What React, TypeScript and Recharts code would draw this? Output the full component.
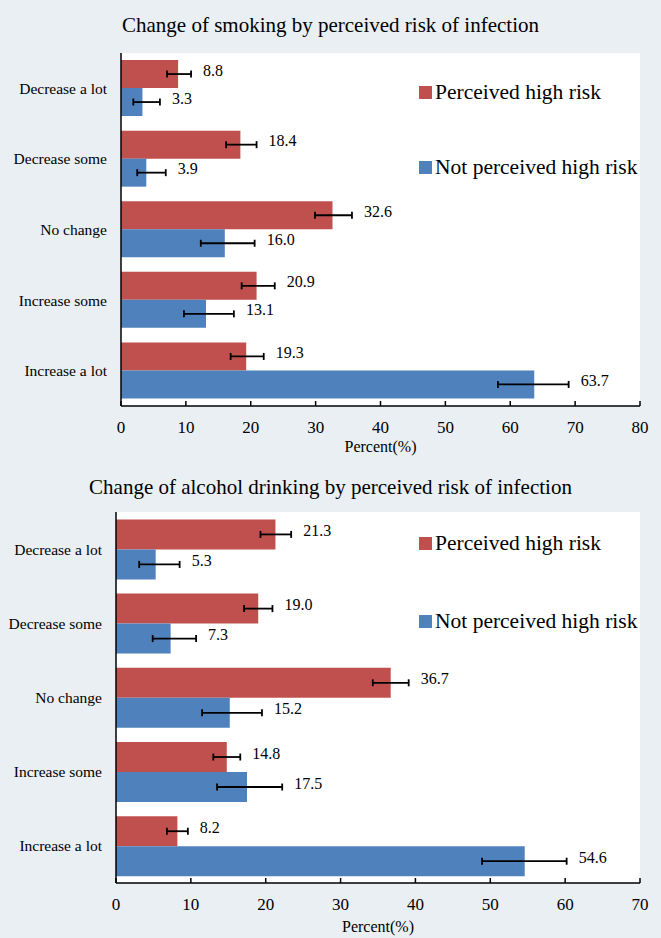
import { BarChart, Bar, XAxis, YAxis, CartesianGrid, ErrorBar, LabelList, Legend, Customized } from 'recharts';

const FONT = "'Liberation Serif', 'Times New Roman', Times, serif";
const RED = '#c0504d';
const BLUE = '#4f81bd';

const categories = ['Decrease a lot', 'Decrease some', 'No change', 'Increase some', 'Increase a lot'];
const seriesKeys = ['high', 'notHigh'];

// smoking
const smokingHigh = [8.8, 18.4, 32.6, 20.9, 19.3];
const smokingNotHigh = [3.3, 3.9, 16.0, 13.1, 63.7];
const smokingHighErr = [[1.7, 2.0], [2.2, 2.5], [2.7, 3.0], [2.3, 2.8], [2.4, 2.7]];
const smokingNotHighErr = [[1.4, 2.7], [1.4, 3.0], [3.7, 4.6], [3.4, 4.3], [5.6, 5.3]];
const smokingTicks = [0, 10, 20, 30, 40, 50, 60, 70, 80];

// alcohol
const alcoholHigh = [21.3, 19.0, 36.7, 14.8, 8.2];
const alcoholNotHigh = [5.3, 7.3, 15.2, 17.5, 54.6];
const alcoholHighErr = [[2.0, 2.1], [1.9, 1.9], [2.4, 2.4], [1.8, 1.8], [1.4, 1.4]];
const alcoholNotHighErr = [[2.2, 3.2], [2.4, 3.4], [3.7, 4.3], [4.0, 4.7], [5.7, 5.6]];
const alcoholTicks = [0, 10, 20, 30, 40, 50, 60, 70];

const buildRows = (high: number[], notHigh: number[], highErr: number[][], notHighErr: number[][]) =>
  categories.map((category, i) => ({
    category,
    high: high[i],
    notHigh: notHigh[i],
    highErr: highErr[i],
    notHighErr: notHighErr[i],
  }));

const smokingData = buildRows(smokingHigh, smokingNotHigh, smokingHighErr, smokingNotHighErr);
const alcoholData = buildRows(alcoholHigh, alcoholNotHigh, alcoholHighErr, alcoholNotHighErr);

// value label sits just past the upper end of the error bar
const valueLabel = (errs: number[][]) => (props: any) => {
  const { x, y, width, height, value, index } = props;
  const perUnit = value ? width / value : 0;
  const lx = x + width + errs[index][1] * perUnit + 12;
  return (
    <text x={lx} y={y + height / 2 - 4} dy="0.35em" style={{ fontFamily: FONT }} fontSize={16} fill="#000">
      {Number(value).toFixed(1)}
    </text>
  );
};

const XTick = (props: any) => {
  const { x, y, payload } = props;
  return (
    <g>
      <line x1={x} x2={x} y1={y} y2={y - 5} stroke="#000" strokeWidth={1.5} />
      <text x={x} y={y + 21} dy="0.35em" textAnchor="middle" style={{ fontFamily: FONT }} fontSize={17} fill="#000">
        {payload.value}
      </text>
    </g>
  );
};

const YTick = (props: any) => {
  const { x, y, payload } = props;
  return (
    <text x={x} y={y} dy="0.35em" textAnchor="end" style={{ fontFamily: FONT }} fontSize={15.5} fill="#000">
      {payload.value}
    </text>
  );
};

const legendContent = (spacing: number) => (props: any) => {
  const payload = [...(props.payload || [])].sort(
    (a: any, b: any) => seriesKeys.indexOf(a.dataKey) - seriesKeys.indexOf(b.dataKey)
  );
  return (
    <div style={{ fontFamily: FONT, fontSize: 21.5, color: '#000' }}>
      {payload.map((entry: any, i: number) => (
        <div
          key={i}
          style={{ display: 'flex', alignItems: 'center', height: 26, marginBottom: i === 0 ? spacing - 26 : 0, whiteSpace: 'nowrap' }}
        >
          <span style={{ display: 'inline-block', width: 13, height: 13, background: entry.color, marginRight: 3 }} />
          <span>{entry.value}</span>
        </div>
      ))}
    </div>
  );
};

type PanelProps = {
  title: string;
  data: any[];
  ticks: number[];
  highErr: number[][];
  notHighErr: number[][];
  height: number;
  margin: { top: number; right: number; left: number; bottom: number };
  yWidth: number;
  xHeight: number;
  titleY: number;
  legendTop: number;
  legendSpacing: number;
};

const Panel = ({ title, data, ticks, highErr, notHighErr, height, margin, yWidth, xHeight, titleY, legendTop, legendSpacing }: PanelProps) => (
  <BarChart width={661} height={height} data={data} layout="vertical" margin={margin} barGap={0} barCategoryGap="10%" style={{ fontFamily: FONT }}>
    <CartesianGrid horizontal={false} vertical={false} fill="#fff" />
    <XAxis
      type="number"
      domain={[0, ticks[ticks.length - 1]]}
      ticks={ticks}
      height={xHeight}
      axisLine={{ stroke: '#000', strokeWidth: 1.5 }}
      tickLine={false}
      tickSize={0}
      tickMargin={0}
      tick={<XTick />}
      label={{ value: 'Percent(%)', position: 'insideBottom', offset: 0, fill: '#000', fontSize: 16, style: { fontFamily: FONT } }}
    />
    <YAxis
      type="category"
      dataKey="category"
      width={yWidth}
      axisLine={{ stroke: '#000', strokeWidth: 1.5 }}
      tickLine={false}
      tickSize={0}
      tickMargin={14}
      tick={<YTick />}
    />
    <Legend
      layout="vertical"
      align="center"
      verticalAlign="middle"
      content={legendContent(legendSpacing)}
      wrapperStyle={{ left: 419, top: legendTop, width: 240 }}
    />
    <Bar dataKey="high" name="Perceived high risk" fill={RED} isAnimationActive={false}>
      <ErrorBar dataKey="highErr" direction="x" width={3.5} stroke="#000" strokeWidth={1.8} />
      <LabelList dataKey="high" content={valueLabel(highErr)} />
    </Bar>
    <Bar dataKey="notHigh" name="Not perceived high risk" fill={BLUE} isAnimationActive={false}>
      <ErrorBar dataKey="notHighErr" direction="x" width={3.5} stroke="#000" strokeWidth={1.8} />
      <LabelList dataKey="notHigh" content={valueLabel(notHighErr)} />
    </Bar>
    <Customized
      component={() => (
        <text x={330.5} y={titleY} dy="0.35em" textAnchor="middle" style={{ fontFamily: FONT }} fontSize={21} fill="#000">
          {title}
        </text>
      )}
    />
  </BarChart>
);

export default function App() {
  return (
    <div style={{ position: 'absolute', left: 0, top: 0, width: 661, height: 938, background: '#e9eff3', fontFamily: FONT }}>
      <Panel
        title="Change of smoking by perceived risk of infection"
        data={smokingData}
        ticks={smokingTicks}
        highErr={smokingHighErr}
        notHighErr={smokingNotHighErr}
        height={470}
        margin={{ top: 53, right: 21, left: 0, bottom: 18 }}
        yWidth={121}
        xHeight={46}
        titleY={25}
        legendTop={79}
        legendSpacing={75}
      />
      <Panel
        title="Change of alcohol drinking by perceived risk of infection"
        data={alcoholData}
        ticks={alcoholTicks}
        highErr={alcoholHighErr}
        notHighErr={alcoholNotHighErr}
        height={468}
        margin={{ top: 42, right: 21, left: 0, bottom: 6 }}
        yWidth={116}
        xHeight={49}
        titleY={17}
        legendTop={60}
        legendSpacing={78}
      />
    </div>
  );
}
